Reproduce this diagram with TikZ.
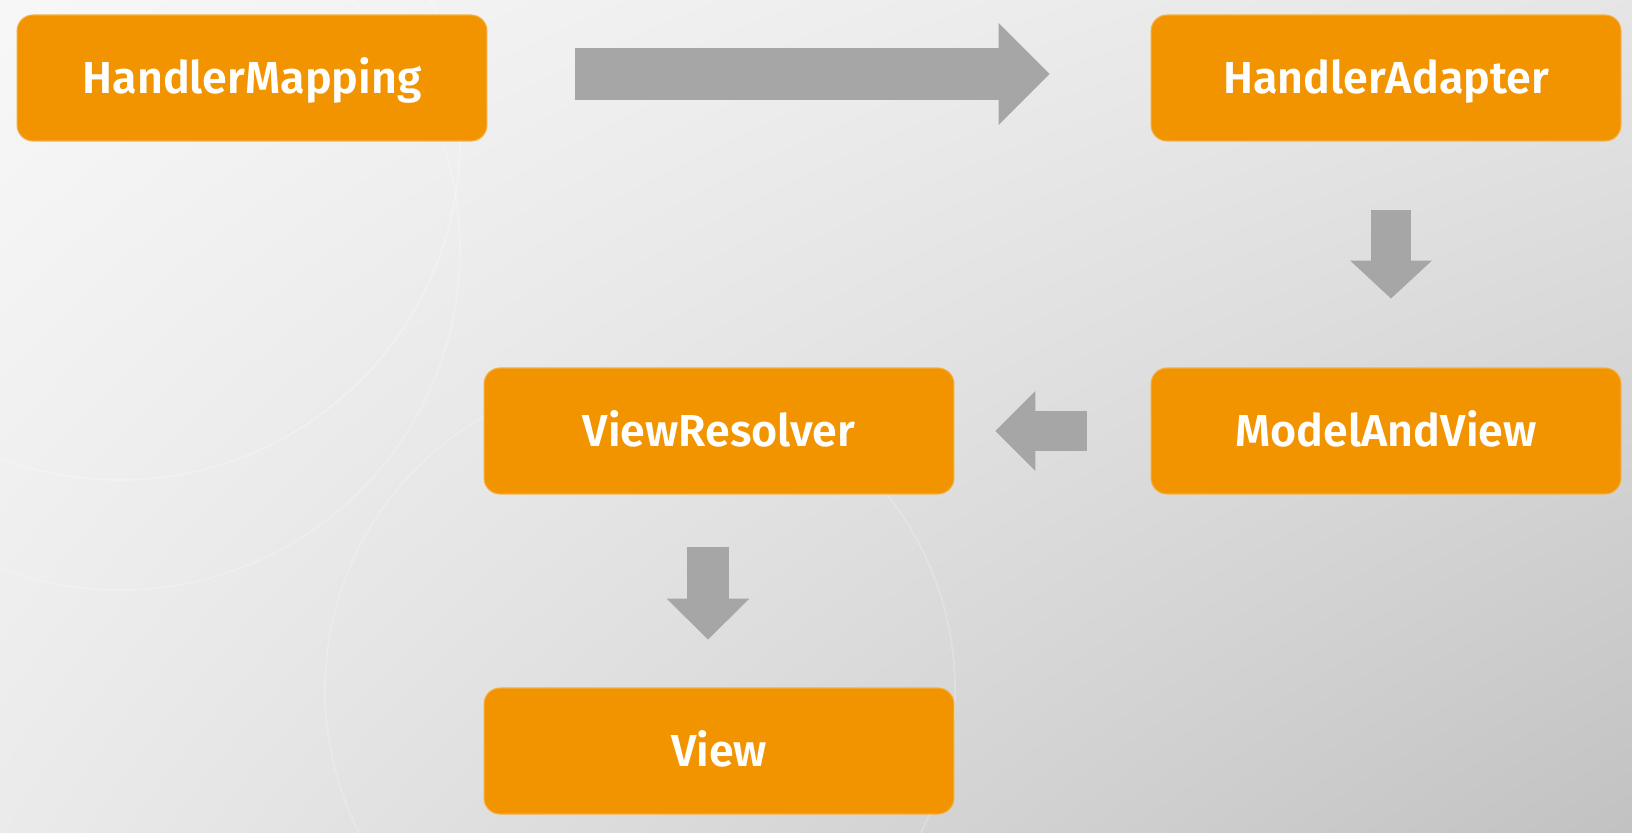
\documentclass[tikz,border=0pt]{standalone}
\usepackage{fontspec}
\setmainfont{Fira Sans}
\newfontfamily\boxfont{Fira Sans SemiBold}
\usetikzlibrary{arrows.meta,shadings}
\definecolor{boxorange}{HTML}{F29400}
\definecolor{arrowgray}{HTML}{A6A6A6}
\tikzset{
  flowbox/.style={fill=boxorange,draw=boxorange!75!white,line width=0.6pt,rounded corners=0.32cm,
    minimum width=9.4cm,minimum height=2.52cm,inner sep=0pt,text=white,
    text height=0.63cm,text depth=0pt,
    font=\boxfont\fontsize{25.5}{30}\selectfont},
  blockarrow/.style={draw=arrowgray,line width=#1}
}
\begin{document}
\begin{tikzpicture}[x=0.02cm,y=-0.02cm]
\useasboundingbox (0,0) rectangle (1632,832);
\shade[upper left=white!97!black,upper right=white!90!black,lower left=white!92!black,lower right=white!76!black] (0,0) rectangle (1632,832);
\draw[white,opacity=0.25,line width=1pt] (120,140) circle (340);
\draw[white,opacity=0.2,line width=1pt] (120,250) circle (340);
\draw[white,opacity=0.2,line width=1pt] (640,690) circle (315);
\node[flowbox] (hm) at (252,78) {HandlerMapping};
\node[flowbox] (ha) at (1386,78) {HandlerAdapter};
\node[flowbox] (mv) at (1386,431) {ModelAndView};
\node[flowbox] (vr) at (719,431) {ViewResolver};
\node[flowbox] (vw) at (719,751) {View};
\draw[blockarrow=1.04cm,-{Triangle[length=1.02cm,width=2.04cm,line width=0pt]},shorten <=1.76cm,shorten >=2.02cm]
  ([yshift=0.08cm]hm.east) -- ([yshift=0.08cm]ha.west);
\draw[blockarrow=0.8cm,-{Triangle[length=0.76cm,width=1.64cm,line width=0pt]},shorten <=1.36cm,shorten >=1.38cm]
  ([xshift=0.1cm]ha.south) -- ([xshift=0.1cm]mv.north);
\draw[blockarrow=0.8cm,-{Triangle[length=0.8cm,width=1.6cm,line width=0pt]},shorten <=1.28cm,shorten >=0.82cm]
  (mv.west) -- (vr.east);
\draw[blockarrow=0.84cm,-{Triangle[length=0.82cm,width=1.66cm,line width=0pt]},shorten <=1.04cm,shorten >=0.96cm]
  ([xshift=-0.22cm]vr.south) -- ([xshift=-0.22cm]vw.north);
\end{tikzpicture}
\end{document}
